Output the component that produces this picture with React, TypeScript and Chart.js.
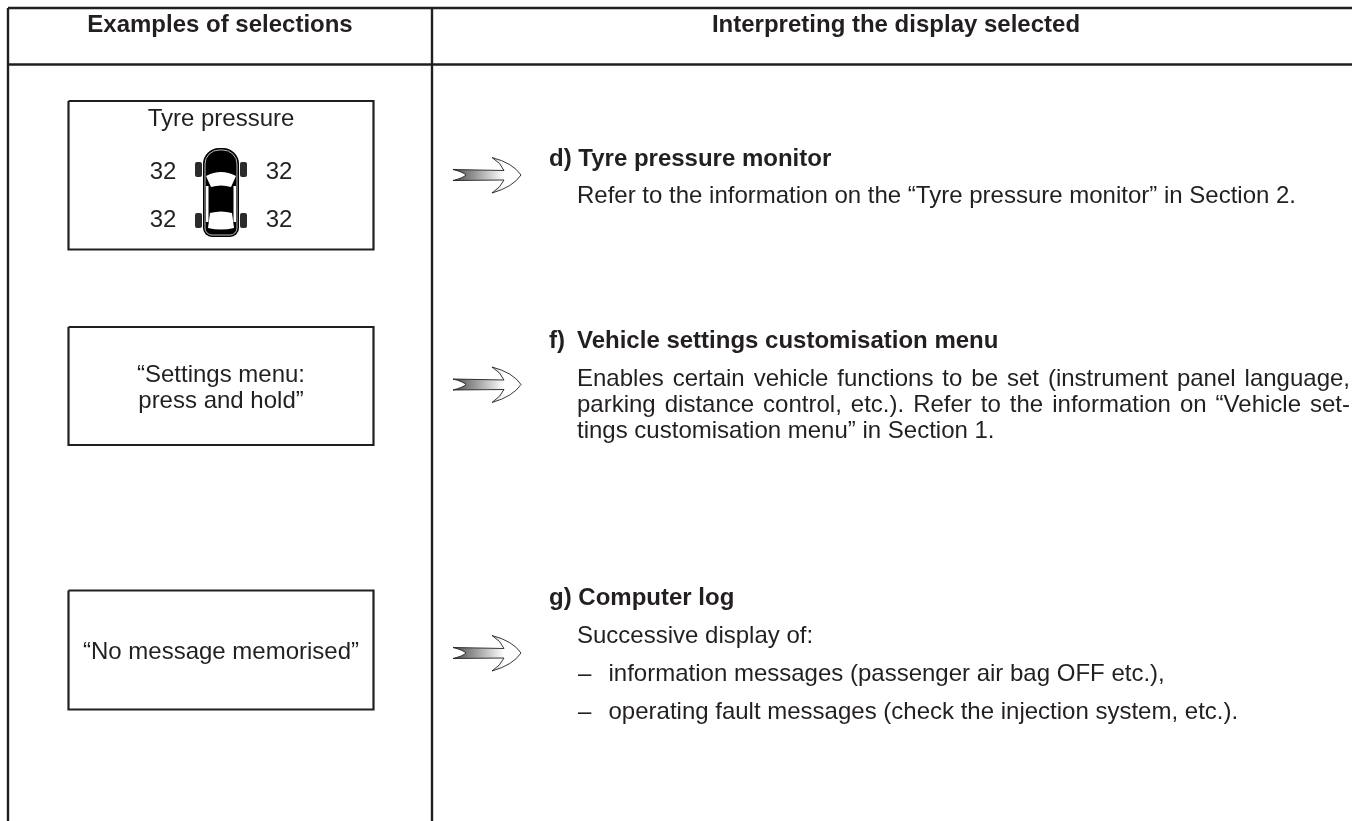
import React, { useEffect, useRef } from "react";
import { Chart, registerables } from "chart.js";

Chart.register(...registerables);

const INK = "#231f20";
const FAMILY = '"Liberation Sans", Arial, sans-serif';

// Table rules, as [x1, y1, x2, y2] in scale units
const tableRules = [
  [8, 8, 1352, 8],
  [8, 64.5, 1352, 64.5],
  [8, 8, 8, 821],
  [432, 8, 432, 821],
];
// Display boxes as [left, top, right, bottom]
const displayBoxes = [
  [68.5, 101, 373.5, 249.5],
  [68.5, 327, 373.5, 445],
  [68.5, 590.5, 373.5, 709.5],
];
const arrowCentres = [175, 384.5, 653];
const arrowX = 453;

// text, x, baseline, align, weight, size, justified width
type T = [string, number, number, "left" | "center", number, number, number?];
const headerTexts: T[] = [
  ["Examples of selections", 220, 32, "center", 700, 24],
  ["Interpreting the display selected", 896, 32, "center", 700, 24],
];
const boxTexts: T[] = [
  ["Tyre pressure", 221, 126, "center", 400, 24],
  ["“Settings menu:", 221, 382, "center", 400, 24],
  ["press and hold”", 221, 408, "center", 400, 24],
  ["“No message memorised”", 221, 659, "center", 400, 24],
];
const tyreValues: T[] = [
  ["32", 163, 179, "center", 400, 24],
  ["32", 279, 179, "center", 400, 24],
  ["32", 163, 227, "center", 400, 24],
  ["32", 279, 227, "center", 400, 24],
];
const bodyTexts: T[] = [
  ["d) Tyre pressure monitor", 549, 166, "left", 700, 24],
  ["Refer to the information on the “Tyre pressure monitor” in Section 2.", 577, 203, "left", 400, 24],
  ["f)", 549, 348, "left", 700, 24],
  ["Vehicle settings customisation menu", 577, 348, "left", 700, 24],
  ["Enables certain vehicle functions to be set (instrument panel language,", 577, 386, "left", 400, 24, 773],
  ["parking distance control, etc.). Refer to the information on “Vehicle set-", 577, 412, "left", 400, 24, 773],
  ["tings customisation menu” in Section 1.", 577, 438, "left", 400, 24],
  ["g) Computer log", 549, 605, "left", 700, 24],
  ["Successive display of:", 577, 643, "left", 400, 24],
  ["–", 578, 681, "left", 400, 24],
  ["information messages (passenger air bag OFF etc.),", 608.5, 681, "left", 400, 24],
  ["–", 578, 719, "left", 400, 24],
  ["operating fault messages (check the injection system, etc.).", 608.5, 719, "left", 400, 24],
];

const segments = (r: number[][]) =>
  r.flatMap(([a, b, c, d]) => [{ x: a, y: b }, { x: c, y: d }, { x: NaN, y: NaN }]);
const outlines = (r: number[][]) =>
  r.flatMap(([l, t, rr, b]) => [
    { x: l, y: t }, { x: rr, y: t }, { x: rr, y: b }, { x: l, y: b }, { x: l, y: t }, { x: NaN, y: NaN },
  ]);

const textPlugin = {
  id: "sheet",
  afterDatasetsDraw(chart: any) {
    const { ctx, scales } = chart;
    const sx = (v: number) => scales.x.getPixelForValue(v);
    const sy = (v: number) => scales.y.getPixelForValue(v);
    ctx.save();
    // arrows
    arrowCentres.forEach((cy) => {
      const X = (v: number) => sx(arrowX + v);
      const Y = (v: number) => sy(cy + v);
      ctx.beginPath();
      ctx.moveTo(X(0), Y(-5.5));
      ctx.lineTo(X(51), Y(-4.5));
      ctx.quadraticCurveTo(X(48), Y(-12), X(39), Y(-17.5));
      ctx.quadraticCurveTo(X(60), Y(-12), X(68), Y(0));
      ctx.quadraticCurveTo(X(60), Y(12), X(39), Y(18));
      ctx.quadraticCurveTo(X(48), Y(12), X(51), Y(5));
      ctx.lineTo(X(0), Y(5.5));
      ctx.quadraticCurveTo(X(10), Y(3), X(13), Y(0));
      ctx.quadraticCurveTo(X(10), Y(-3), X(0), Y(-5.5));
      ctx.closePath();
      const g = ctx.createLinearGradient(X(0), 0, X(51), 0);
      g.addColorStop(0, "#4a4a4a");
      g.addColorStop(1, "#ffffff");
      ctx.fillStyle = g;
      ctx.fill();
      ctx.lineWidth = 0.9;
      ctx.strokeStyle = INK;
      ctx.stroke();
    });
    // car
    const C = (v: number) => sx(221 + v);
    const R = (v: number) => sy(192 + v);
    const rr = (x: number, y: number, w: number, h: number, r: any, fill: string) => {
      ctx.beginPath();
      ctx.roundRect(C(x), R(y), w, h, r);
      ctx.fillStyle = fill;
      ctx.fill();
    };
    rr(-26, -30, 7, 15, 2, "#2b2b2b");
    rr(19, -30, 7, 15, 2, "#2b2b2b");
    rr(-26, 21, 7, 15, 2, "#2b2b2b");
    rr(19, 21, 7, 15, 2, "#2b2b2b");
    rr(-18, -44, 36, 89, [16, 16, 9, 9], "#000");
    ctx.strokeStyle = "#bbb";
    ctx.lineWidth = 1;
    ctx.beginPath();
    ctx.roundRect(C(-16), R(-42), 32, 85, [14, 14, 7, 7]);
    ctx.stroke();
    ctx.fillStyle = "#fff";
    ctx.beginPath();
    ctx.moveTo(C(-15), R(-16));
    ctx.quadraticCurveTo(C(0), R(-24), C(15), R(-16));
    ctx.lineTo(C(10), R(-5));
    ctx.quadraticCurveTo(C(0), R(-8), C(-10), R(-5));
    ctx.closePath();
    ctx.fill();
    ctx.beginPath();
    ctx.moveTo(C(-11), R(21));
    ctx.quadraticCurveTo(C(0), R(18), C(11), R(21));
    ctx.lineTo(C(13), R(36));
    ctx.quadraticCurveTo(C(0), R(39), C(-13), R(36));
    ctx.closePath();
    ctx.fill();
    ctx.fillRect(C(-15), R(-6), 2.5, 36);
    ctx.fillRect(C(12.5), R(-6), 2.5, 36);
    // texts
    ctx.textBaseline = "alphabetic";
    ctx.fillStyle = INK;
    [...headerTexts, ...boxTexts, ...tyreValues, ...bodyTexts].forEach(([s, x, y, align, w, size, fit]) => {
      ctx.font = `${w} ${size}px ${FAMILY}`;
      ctx.textAlign = align;
      ctx.wordSpacing = "0px";
      if (fit) {
        const gaps = s.split(" ").length - 1;
        ctx.wordSpacing = `${(fit - ctx.measureText(s).width) / gaps}px`;
      }
      ctx.fillText(s, sx(x), sy(y));
    });
    ctx.restore();
  },
};

export default function App() {
  const ref = useRef<HTMLCanvasElement>(null);
  useEffect(() => {
    document.body.style.margin = "0";
    document.body.style.background = "#fff";
    const chart = new Chart(ref.current!, {
      type: "scatter",
      data: {
        datasets: [
          {
            label: "Table rules",
            data: segments(tableRules),
            showLine: true,
            borderColor: INK,
            borderWidth: 2.4,
            pointRadius: 0,
            spanGaps: false,
          },
          {
            label: "Display boxes",
            data: outlines(displayBoxes),
            showLine: true,
            borderColor: INK,
            borderWidth: 2.2,
            pointRadius: 0,
            spanGaps: false,
          },
        ],
      },
      options: {
        animation: false,
        responsive: false,
        layout: { padding: 0 },
        plugins: { legend: { display: false }, tooltip: { enabled: false } },
        scales: {
          x: { type: "linear", min: 0, max: 1352, display: false },
          y: { type: "linear", min: 0, max: 821, reverse: true, display: false },
        },
      },
      plugins: [textPlugin],
    });
    return () => chart.destroy();
  }, []);
  return <canvas ref={ref} width={1352} height={821} style={{ display: "block" }} />;
}
